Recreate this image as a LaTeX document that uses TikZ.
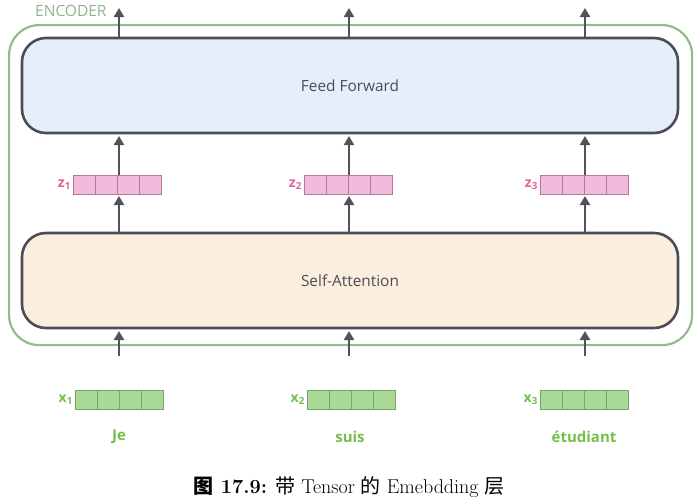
\documentclass[tikz,border=0pt]{standalone}
\usepackage{fontspec}
\setmainfont{Latin Modern Roman}
\newfontfamily\osans{Open Sans}
\newfontfamily\cjk{Noto Sans CJK SC}
\usetikzlibrary{arrows.meta}
\definecolor{encgreen}{HTML}{96B991}
\definecolor{enctext}{HTML}{8DB58C}
\definecolor{ffill}{HTML}{E6EEFB}
\definecolor{safill}{HTML}{FCEEDF}
\definecolor{boxborder}{HTML}{4A4D55}
\definecolor{txtgray}{HTML}{4A4D55}
\definecolor{pinkfill}{HTML}{F4BADB}
\definecolor{pinkline}{HTML}{B07A9A}
\definecolor{pinktext}{HTML}{E5609E}
\definecolor{greenfill}{HTML}{A8DA95}
\definecolor{greenline}{HTML}{7FA070}
\definecolor{greentext}{HTML}{74BF4A}
\definecolor{arrowgray}{HTML}{50545A}
\tikzset{
  layerbox/.style={draw=boxborder, line width=2.6pt, rounded corners=24pt, minimum width=656pt, minimum height=95pt, font=\osans\fontsize{15.4}{18}\selectfont, text=txtgray},
  zcell/.style={draw=pinkline, fill=pinkfill, line width=0.8pt, minimum width=22pt, minimum height=19pt, inner sep=0pt},
  xcell/.style={draw=greenline, fill=greenfill, line width=0.8pt, minimum width=22pt, minimum height=19pt, inner sep=0pt},
  zlab/.style={font=\osans\bfseries\fontsize{14}{16}\selectfont, text=pinktext, anchor=east, inner sep=1.5pt},
  xlab/.style={font=\osans\bfseries\fontsize{14}{16}\selectfont, text=greentext, anchor=east, inner sep=1.5pt},
  word/.style={font=\osans\bfseries\fontsize{15}{17}\selectfont, text=greentext},
  flow/.style={draw=arrowgray, line width=2.2pt, -{Triangle[length=9pt,width=10pt]}},
}
\begin{document}
\begin{tikzpicture}[x=1pt,y=-1pt]
\useasboundingbox (0,0) rectangle (700,501);
% encoder outer box
\node[draw=encgreen, line width=2.2pt, rounded corners=30pt, minimum width=683pt, minimum height=320pt, anchor=north west] (enc) at (8,24) {};
\node[font=\osans\fontsize{15.5}{17}\selectfont, text=enctext, anchor=west, inner sep=0pt] (enclab) at (35,11) {ENCODER};
% layers
\node[layerbox, fill=ffill] (ff) at (350,85.5) {Feed Forward};
\node[layerbox, fill=safill] (sa) at (350,280.5) {Self-Attention};
% vectors
\foreach \i/\cx/\zx/\xx in {1/119/73/75, 2/349/304/307, 3/585/540/540}{
  \foreach \k in {0,1,2,3}{
    \node[zcell] (z\i c\k) at (\zx+11+22*\k,184.5) {};
    \node[xcell] (x\i c\k) at (\xx+11+22*\k,399.5) {};
  }
  \node[zlab] (zl\i) at (z\i c0.west) {z\textsubscript{\i}};
  \node[xlab] (xl\i) at (x\i c0.west) {x\textsubscript{\i}};
  \coordinate (top\i) at (\cx,8);
  \coordinate (bot\i) at (\cx,356);
  \coordinate (ffb\i) at (\cx,134);
  \coordinate (fft\i) at (\cx,37);
  \coordinate (sab\i) at (\cx,329);
  \coordinate (sat\i) at (\cx,232);
  \coordinate (zb\i) at (\cx,194);
  \coordinate (zt\i) at (\cx,175);
  \draw[flow] (fft\i) -- (top\i);
  \draw[flow] (zt\i) -- ([yshift=-2pt]ffb\i);
  \draw[flow] (sat\i) -- ([yshift=-2pt]zb\i);
  \draw[flow] (bot\i) -- ([yshift=-2pt]sab\i);
}
\node[word] (w1) at (119,437) {Je};
\node[word] (w2) at (350,437) {suis};
\node[word] (w3) at (584,437) {étudiant};
% caption
\node[font=\fontsize{20}{24}\selectfont] (cap) at (349,487) {\textbf{{\cjk 图} 17.9:} {\cjk 带} Tensor {\cjk 的} Emebdding {\cjk 层}};
\end{tikzpicture}
\end{document}
